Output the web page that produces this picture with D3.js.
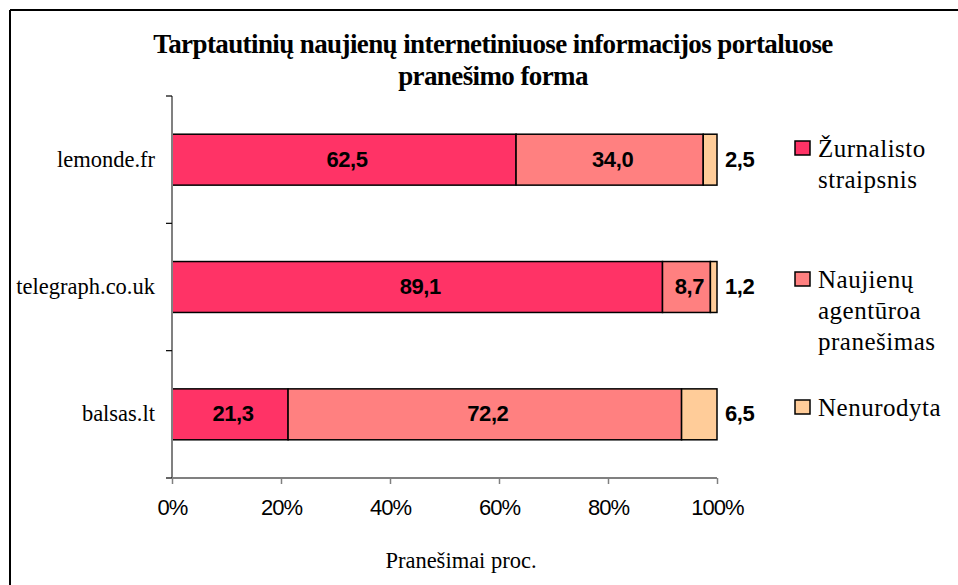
<!DOCTYPE html>
<html>
<head>
<meta charset="utf-8">
<script src="https://cdn.jsdelivr.net/npm/d3@7"></script>
<style>
  html, body { margin: 0; padding: 0; background: #fff; }
  svg { display: block; }
</style>
</head>
<body>
<svg id="chart" width="958" height="585"></svg>
<script>
const categories = ["lemonde.fr", "telegraph.co.uk", "balsas.lt"];
const seriesNames = ["Žurnalisto straipsnis", "Naujienų agentūroa pranešimas", "Nenurodyta"];
const zurnalisto = [62.5, 89.1, 21.3];
const naujienu = [34.0, 8.7, 72.2];
const nenurodyta = [2.5, 1.2, 6.5];
const xTicks = [0, 0.2, 0.4, 0.6, 0.8, 1.0];
const titleLines = ["Tarptautinių naujienų internetiniuose informacijos portaluose", "pranešimo forma"];
const axisTitle = "Pranešimai proc.";
const legendLines = [["Žurnalisto", "straipsnis"], ["Naujienų", "agentūroa", "pranešimas"], ["Nenurodyta"]];
const colors = ["#FF3366", "#FF8080", "#FFCC99"];

const svg = d3.select("#chart");

// outer frame (top and left edges visible)
svg.append("line").attr("x1", 10).attr("x2", 958).attr("y1", 10).attr("y2", 10)
  .attr("stroke", "#000").attr("stroke-width", 2);
svg.append("line").attr("x1", 10).attr("x2", 10).attr("y1", 10).attr("y2", 585)
  .attr("stroke", "#000").attr("stroke-width", 2);

const plot = { left: 172, right: 717, top: 96, bottom: 478 };

const rows = categories.map((c, i) => ({
  cat: c,
  vals: [zurnalisto[i], naujienu[i], nenurodyta[i]]
}));

const x = d3.scaleLinear().domain([0, 1]).range([plot.left, plot.right]);
const y = d3.scaleBand().domain(categories).range([plot.top, plot.bottom]).paddingInner(0.6).paddingOuter(0.3);
const yOuter = d3.scaleBand().domain(categories).range([plot.top, plot.bottom]);

// title
const title = svg.append("text")
  .attr("text-anchor", "middle")
  .attr("font-family", "'Liberation Serif', 'Times New Roman', serif")
  .attr("font-weight", "bold")
  .attr("font-size", 27)
  .attr("letter-spacing", -0.6);
titleLines.forEach((t, i) => {
  title.append("tspan").attr("x", 493).attr("y", 53 + i * 32).text(t);
});

// bars
const stackData = rows.map(r => {
  const total = d3.sum(r.vals);
  let acc = 0;
  return r.vals.map((v, k) => {
    const s = { cat: r.cat, k, v, x0: acc / total, x1: (acc + v) / total };
    acc += v;
    return s;
  });
});

const g = svg.append("g");
stackData.forEach(segs => {
  segs.forEach(s => {
    g.append("rect")
      .attr("x", x(s.x0))
      .attr("y", y(s.cat))
      .attr("width", x(s.x1) - x(s.x0))
      .attr("height", y.bandwidth())
      .attr("fill", colors[s.k])
      .attr("stroke", "#000")
      .attr("stroke-width", 1.5);
  });
});

// data labels
stackData.forEach(segs => {
  segs.forEach(s => {
    const last = s.k === 2;
    g.append("text")
      .attr("x", last ? x(1) + 8 : (x(s.x0) + x(s.x1)) / 2 + 3)
      .attr("y", y(s.cat) + y.bandwidth() / 2 + 7)
      .attr("text-anchor", last ? "start" : "middle")
      .attr("font-family", "'Liberation Sans', Arial, sans-serif")
      .attr("font-weight", "bold")
      .attr("font-size", 22)
      .attr("letter-spacing", -0.4)
      .attr("fill", "#000")
      .text(d3.format(".1f")(s.v).replace(".", ","));
  });
});

// y axis
svg.append("line").attr("x1", plot.left).attr("x2", plot.left)
  .attr("y1", plot.top).attr("y2", plot.bottom).attr("stroke", "#808080").attr("stroke-width", 2);
const boundaries = categories.map(c => yOuter(c)).concat([plot.bottom]);
boundaries.forEach(b => {
  svg.append("line").attr("x1", plot.left - 6).attr("x2", plot.left)
    .attr("y1", b).attr("y2", b).attr("stroke", "#000").attr("stroke-width", 1.2);
});
categories.forEach(c => {
  svg.append("text")
    .attr("x", 155)
    .attr("y", yOuter(c) + yOuter.bandwidth() / 2 + 7)
    .attr("text-anchor", "end")
    .attr("font-family", "'Liberation Serif', 'Times New Roman', serif")
    .attr("font-size", 22.5)
    .attr("fill", "#000")
    .text(c);
});

// x axis
const xAxis = d3.axisBottom(x).tickValues(xTicks).tickSize(6).tickPadding(15)
  .tickFormat(d3.format(".0%"));
const xAxisG = svg.append("g").attr("transform", `translate(0,${plot.bottom})`).call(xAxis);
xAxisG.select(".domain").attr("stroke", "#808080").attr("stroke-width", 2)
  .attr("d", `M${plot.left},0H${plot.right}`);
xAxisG.selectAll(".tick line").attr("stroke", "#808080").attr("stroke-width", 1.5);
xAxisG.selectAll(".tick text")
  .attr("font-family", "'Liberation Sans', Arial, sans-serif")
  .attr("font-size", 22)
  .attr("letter-spacing", -1)
  .attr("fill", "#000");

svg.append("text")
  .attr("x", 461).attr("y", 568)
  .attr("text-anchor", "middle")
  .attr("font-family", "'Liberation Serif', 'Times New Roman', serif")
  .attr("font-size", 22.5)
  .text(axisTitle);

// legend
const legendY = [141, 272, 400];
legendLines.forEach((lines, i) => {
  const lg = svg.append("g");
  lg.append("rect")
    .attr("x", 795).attr("y", legendY[i])
    .attr("width", 15).attr("height", 14)
    .attr("fill", colors[i]).attr("stroke", "#000").attr("stroke-width", 1.5);
  const t = lg.append("text")
    .attr("font-family", "'Liberation Serif', 'Times New Roman', serif")
    .attr("font-size", 25)
    .attr("letter-spacing", 0.5)
    .attr("fill", "#000");
  lines.forEach((ln, j) => {
    t.append("tspan").attr("x", 818).attr("y", legendY[i] + 16 + j * 31).text(ln);
  });
});
</script>
</body>
</html>
